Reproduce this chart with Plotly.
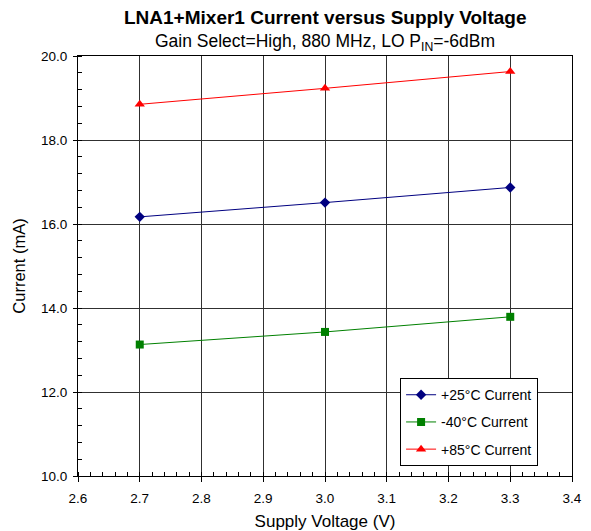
import plotly.graph_objects as go

voltage = [2.7, 3.0, 3.3]
current_25 = [16.17, 16.51, 16.87]
current_m40 = [13.13, 13.43, 13.79]
current_85 = [18.85, 19.23, 19.63]

series = [
    ("+25°C Current", current_25, "#000080", "diamond", 8),
    ("-40°C Current", current_m40, "#008000", "square", 8),
    ("+85°C Current", current_85, "#FF0000", "triangle-up", 9),
]

fig = go.Figure()
for name, vals, color, sym, size in series:
    fig.add_trace(go.Scatter(
        x=voltage, y=vals, name=name, legendgroup=name, mode="lines+markers",
        line=dict(color=color, width=1),
        marker=dict(symbol=sym, size=size, color=color),
    ))

font = "Liberation Sans, Arial, sans-serif"
# page body has an 8px margin, so the figure is sized and offset accordingly
fig.update_layout(
    width=583, height=523,
    margin=dict(l=70, r=19, t=48, b=55),
    paper_bgcolor="white", plot_bgcolor="white",
    font=dict(family=font, size=13.5, color="black"),
    showlegend=True,
    legend=dict(
        x=0.652, y=0.233, xanchor="left", yanchor="top",
        bordercolor="black", borderwidth=1, bgcolor="white",
        font=dict(size=14), tracegroupgap=6, itemwidth=30,
        entrywidth=121,
    ),
    annotations=[
        dict(text="<b>LNA1+Mixer1 Current versus Supply Voltage</b>",
             xref="paper", yref="paper", x=0.5, y=1, yshift=39,
             showarrow=False, font=dict(size=19), xanchor="center", yanchor="middle"),
        dict(text="Gain Select=High, 880 MHz, LO P<sub>IN</sub>=-6dBm",
             xref="paper", yref="paper", x=0.5, y=1, yshift=14,
             showarrow=False, font=dict(size=17.5), xanchor="center", yanchor="middle"),
    ],
)
fig.update_xaxes(
    range=[2.6, 3.4], dtick=0.1, tick0=2.6, tickformat=".1f",
    showgrid=True, gridcolor="#303030", gridwidth=1,
    showline=True, linecolor="black", linewidth=1, mirror=True,
    ticks="outside", ticklen=5, tickcolor="black", ticklabelstandoff=5,
    minor=dict(ticks="inside", dtick=0.02, ticklen=4, tickcolor="black", showgrid=False),
    zeroline=False, automargin=False,
    title=dict(text="Supply Voltage (V)", font=dict(size=17), standoff=10),
)
fig.update_yaxes(
    range=[10, 20], dtick=2, tick0=10, tickformat=".1f",
    showgrid=True, gridcolor="#303030", gridwidth=1,
    showline=True, linecolor="black", linewidth=1, mirror=True,
    ticks="outside", ticklen=4, tickcolor="black", ticklabelstandoff=3,
    minor=dict(ticks="inside", dtick=0.4, ticklen=4, tickcolor="black", showgrid=False),
    zeroline=False, automargin=False,
    title=dict(text="Current (mA)", font=dict(size=16.5), standoff=11),
)

fig.write_html("out.html")
